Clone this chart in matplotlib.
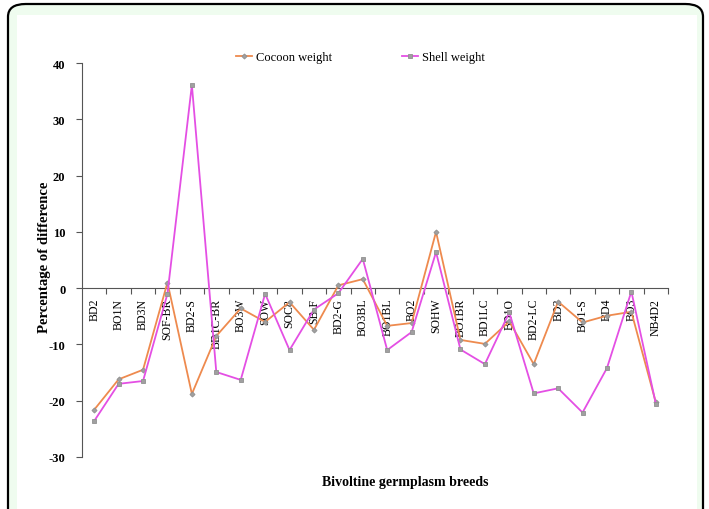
import matplotlib
matplotlib.use("Agg")
import matplotlib.pyplot as plt
from matplotlib.patches import FancyBboxPatch, Rectangle

categories = ["BD2", "BO1N", "BD3N", "SOF-BR", "BD2-S", "BD1C-BR", "BO3W", "SOW",
              "SOC8", "SB-F", "BD2-G", "BO3BL", "BO1BL", "BO2", "SOHW", "BO1BR",
              "BD1LC", "BD1O", "BD2-LC", "BD3", "BO1-S", "BD4", "BO3", "NB4D2"]
cocoon_weight = [-21.6, -16.2, -14.5, 1.0, -18.8, -8.5, -3.6, -6.0,
                 -2.5, -7.4, 0.5, 1.6, -6.7, -6.2, 10.0, -9.2,
                 -9.9, -5.9, -13.5, -2.4, -6.1, -4.9, -4.2, -20.3]
shell_weight = [-23.6, -17.0, -16.5, -1.0, 36.1, -14.9, -16.3, -1.0,
                -11.0, -3.8, -0.9, 5.2, -11.0, -7.8, 6.4, -10.9,
                -13.5, -4.3, -18.7, -17.8, -22.1, -14.2, -0.6, -20.5]
yticks = [-30, -20, -10, 0, 10, 20, 30, 40]

plt.rcParams['font.family'] = ['Liberation Serif', 'DejaVu Serif']

W, H = 709, 510
fig = plt.figure(figsize=(W / 100, H / 100), dpi=100)
fig.patch.set_facecolor('white')

# frame
outer = FancyBboxPatch((8 / W, -0.1), (703 - 8) / W, 1 - 5 / H + 0.1,
                       boxstyle="round,pad=0,rounding_size=0.025",
                       transform=fig.transFigure, facecolor='#effcef',
                       edgecolor='black', linewidth=1.6, zorder=-2)
fig.patches.append(outer)
inner = Rectangle((17 / W, -0.1), (697 - 17) / W, 1 - 16 / H + 0.1,
                  transform=fig.transFigure, facecolor='white',
                  edgecolor='none', zorder=-1)
fig.patches.append(inner)

ax = fig.add_axes([82 / W, 1 - 458 / H, (668 - 82) / W, (458 - 64) / H])
ax.set_facecolor('none')
ax.set_zorder(1)
x = list(range(len(categories)))

ax.plot(x, cocoon_weight, color='#ee8a4e', lw=1.3, marker='D', ms=2.6,
        mfc='#a0a0a0', mec='#909090', mew=0.6, label='Cocoon weight', zorder=3)
ax.plot(x, shell_weight, color='#e44fe4', lw=1.3, marker='s', ms=3.4,
        mfc='#a0a0a0', mec='#909090', mew=0.6, label='Shell weight', zorder=3)

ax.set_xlim(-0.5, len(categories) - 0.5)
ax.set_ylim(-30, 40)
ax.spines['top'].set_visible(False)
ax.spines['right'].set_visible(False)
ax.spines['bottom'].set_position(('data', 0))
ax.spines['left'].set_color('#555555')
ax.spines['bottom'].set_color('#555555')

ax.set_yticks(yticks)
ax.set_yticklabels([str(v) for v in yticks], fontweight='bold', fontsize=9)
ax.tick_params(axis='y', direction='out', length=4, color='#555555', pad=8)

ax.set_xticks([i + 0.5 for i in x])
ax.set_xticklabels([])
ax.tick_params(axis='x', which='major', direction='out', length=4, color='#555555')
ax.set_xticks(x, minor=True)
ax.set_xticklabels(categories, minor=True, rotation=90, fontsize=8.5)
ax.tick_params(axis='x', which='minor', length=0, pad=7)
for lbl in ax.get_xticklabels(minor=True):
    lbl.set_verticalalignment('top')

fig.text(45 / W, 1 - 257 / H, 'Percentage of difference', rotation=90,
         ha='center', va='center', fontsize=10.6, fontweight='bold')
fig.text(405 / W, 1 - 483 / H, 'Bivoltine germplasm breeds',
         ha='center', va='center', fontsize=10, fontweight='bold')

fig.legend(loc='center', bbox_to_anchor=(360 / W, 1 - 58 / H), ncol=2,
           frameon=False, fontsize=9, handlelength=1.3, handletextpad=0.3,
           columnspacing=5.6)

fig.savefig('out.png', dpi=100)
